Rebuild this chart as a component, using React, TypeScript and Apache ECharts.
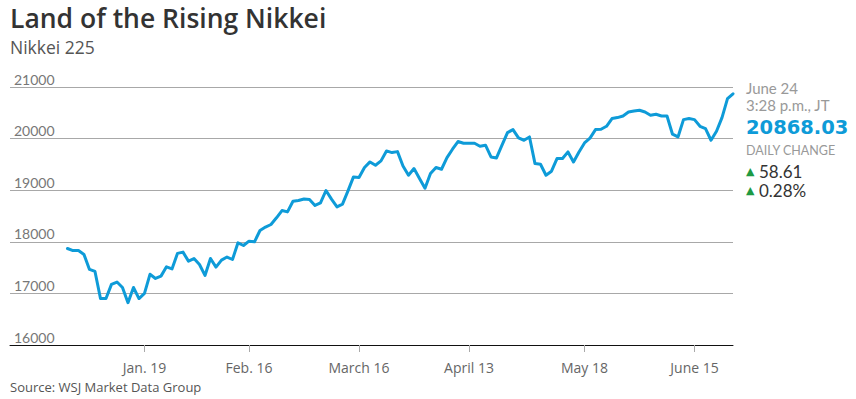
import React, { useEffect, useRef } from "react";
import * as echarts from "echarts";

// Trading days (Tokyo), Dec 24 2014 – June 24 2015
const tradingDays: string[] = [
  "2014-12-24", "2014-12-25", "2014-12-26", "2014-12-29", "2014-12-30",
  "2015-01-05", "2015-01-06", "2015-01-07", "2015-01-08", "2015-01-09",
  "2015-01-13", "2015-01-14", "2015-01-15", "2015-01-16",
  "2015-01-19", "2015-01-20", "2015-01-21", "2015-01-22", "2015-01-23",
  "2015-01-26", "2015-01-27", "2015-01-28", "2015-01-29", "2015-01-30",
  "2015-02-02", "2015-02-03", "2015-02-04", "2015-02-05", "2015-02-06",
  "2015-02-09", "2015-02-10", "2015-02-12", "2015-02-13",
  "2015-02-16", "2015-02-17", "2015-02-18", "2015-02-19", "2015-02-20",
  "2015-02-23", "2015-02-24", "2015-02-25", "2015-02-26", "2015-02-27",
  "2015-03-02", "2015-03-03", "2015-03-04", "2015-03-05", "2015-03-06",
  "2015-03-09", "2015-03-10", "2015-03-11", "2015-03-12", "2015-03-13",
  "2015-03-16", "2015-03-17", "2015-03-18", "2015-03-19", "2015-03-20",
  "2015-03-23", "2015-03-24", "2015-03-25", "2015-03-26", "2015-03-27",
  "2015-03-30", "2015-03-31", "2015-04-01", "2015-04-02", "2015-04-03",
  "2015-04-06", "2015-04-07", "2015-04-08", "2015-04-09", "2015-04-10",
  "2015-04-13", "2015-04-14", "2015-04-15", "2015-04-16", "2015-04-17",
  "2015-04-20", "2015-04-21", "2015-04-22", "2015-04-23", "2015-04-24",
  "2015-04-27", "2015-04-28", "2015-04-30", "2015-05-01",
  "2015-05-07", "2015-05-08",
  "2015-05-11", "2015-05-12", "2015-05-13", "2015-05-14", "2015-05-15",
  "2015-05-18", "2015-05-19", "2015-05-20", "2015-05-21", "2015-05-22",
  "2015-05-25", "2015-05-26", "2015-05-27", "2015-05-28", "2015-05-29",
  "2015-06-01", "2015-06-02", "2015-06-03", "2015-06-04", "2015-06-05",
  "2015-06-08", "2015-06-09", "2015-06-10", "2015-06-11", "2015-06-12",
  "2015-06-15", "2015-06-16", "2015-06-17", "2015-06-18", "2015-06-19",
  "2015-06-22", "2015-06-23", "2015-06-24",
];

// Nikkei 225 closes
const closes: number[] = [
  17870, 17830, 17830, 17755, 17465,
  17425, 16900, 16900, 17175, 17220,
  17115, 16820, 17115, 16900,
  17000, 17370, 17290, 17335, 17515,
  17475, 17775, 17800, 17625, 17675,
  17560, 17348, 17677, 17510, 17645,
  17705, 17657, 17980, 17928,
  18012, 18000, 18219, 18285, 18335,
  18465, 18606, 18580, 18786, 18800,
  18830, 18820, 18704, 18755, 18994,
  18826, 18676, 18729, 18987, 19258,
  19245, 19439, 19548, 19484, 19568,
  19761, 19729, 19748, 19470, 19290,
  19419, 19226, 19038, 19322, 19439,
  19406, 19632, 19794, 19943, 19910,
  19910, 19910, 19852, 19872, 19645,
  19626, 19872, 20117, 20175, 20013,
  19968, 20032, 19516, 19503,
  19290, 19368,
  19613, 19613, 19742, 19548, 19742,
  19916, 20010, 20175, 20181, 20239,
  20388, 20407, 20439, 20516, 20535,
  20549, 20516, 20452, 20471, 20439,
  20439, 20085, 20032, 20368, 20388,
  20368, 20239, 20194, 19968, 20142,
  20407, 20775, 20868,
];

const tickDates: string[] = ["2015-01-19", "2015-02-16", "2015-03-16", "2015-04-13", "2015-05-18", "2015-06-15"];
const tickLabels: string[] = ["Jan. 19", "Feb. 16", "March 16", "April 13", "May 18", "June 15"];

const yMin = 16000;
const yMax = 21000;
const yStep = 1000;

const lastDateLabel = "June 24";
const lastTimeLabel = "3:28 p.m., JT";
const lastValueLabel = "20868.03";
const changePoints = "58.61";
const changePercent = "0.28%";

export default function App() {
  const ref = useRef<HTMLDivElement>(null);

  useEffect(() => {
    if (!ref.current) return;
    const chart = echarts.init(ref.current, undefined, { renderer: "svg" });
    const tickIdx = tickDates.map((d) => tradingDays.indexOf(d));
    const labelByIdx: Record<number, string> = {};
    tickIdx.forEach((i, k) => (labelByIdx[i] = tickLabels[k]));
    const data = closes.map((v, i) => [i, v]);

    const side = "Lato, sans-serif";
    chart.setOption({
      animation: false,
      backgroundColor: "#fff",
      grid: { left: 10, right: 123, top: 87, bottom: 54, containLabel: false },
      xAxis: {
        type: "value",
        min: -10.45,
        max: tradingDays.length - 1,
        splitLine: { show: false },
        axisLine: { show: true, lineStyle: { color: "#111", width: 1 } },
        axisTick: {
          show: true,
          customValues: tickIdx,
          length: 7,
          lineStyle: { color: "#aaa", width: 1 },
        },
        axisLabel: {
          show: true,
          customValues: tickIdx,
          formatter: (v: number) => labelByIdx[Math.round(v)] ?? "",
          margin: 15,
          color: "#666",
          fontFamily: "'Open Sans', sans-serif",
          fontSize: 14,
        },
      },
      yAxis: {
        type: "value",
        min: yMin,
        max: yMax,
        interval: yStep,
        axisLine: { show: false },
        axisTick: { show: false },
        splitLine: { show: true, lineStyle: { color: "#a8a8a8", width: 1 } },
        axisLabel: {
          inside: true,
          margin: 4,
          align: "left",
          verticalAlign: "bottom",
          padding: [0, 0, 1, 0],
          color: "#777",
          fontFamily: side,
          fontSize: 14,
          formatter: (v: number) => String(v),
        },
      },
      series: [
        {
          type: "line",
          data,
          showSymbol: false,
          symbol: "none",
          lineStyle: { color: "#0e9bd8", width: 3, join: "round", cap: "round" },
          z: 3,
        },
      ],
      graphic: [
        {
          type: "text",
          x: 10,
          y: 18,
          style: {
            text: "Land of the Rising Nikkei",
            fill: "#333",
            font: "600 26.5px 'Open Sans', sans-serif",
            verticalAlign: "middle",
          },
        },
        {
          type: "text",
          x: 10,
          y: 47,
          style: {
            text: "Nikkei 225",
            fill: "#555",
            font: "17.5px 'Open Sans', sans-serif",
            verticalAlign: "middle",
          },
        },
        {
          type: "text",
          x: 10,
          y: 387,
          style: {
            text: "Source: WSJ Market Data Group",
            fill: "#555",
            font: "13px 'Open Sans', sans-serif",
            verticalAlign: "middle",
          },
        },
        {
          type: "text",
          x: 746,
          y: 88,
          style: { text: lastDateLabel, fill: "#999", font: `15px ${side}`, verticalAlign: "middle" },
        },
        {
          type: "text",
          x: 746,
          y: 105,
          style: { text: lastTimeLabel, fill: "#999", font: `15px ${side}`, verticalAlign: "middle" },
        },
        {
          type: "text",
          x: 746,
          y: 127,
          style: {
            text: lastValueLabel,
            fill: "#0e9bd8",
            font: "bold 19.5px 'DejaVu Sans', sans-serif",
            verticalAlign: "middle",
          },
        },
        {
          type: "text",
          x: 746,
          y: 150,
          style: { text: "DAILY CHANGE", fill: "#999", font: `12.5px ${side}`, verticalAlign: "middle" },
        },
        {
          type: "text",
          x: 746,
          y: 171,
          style: { text: "▲", fill: "#1e9a43", font: "11px 'DejaVu Sans', sans-serif", verticalAlign: "middle" },
        },
        {
          type: "text",
          x: 759,
          y: 171,
          style: { text: changePoints, fill: "#333", font: `17px ${side}`, verticalAlign: "middle" },
        },
        {
          type: "text",
          x: 746,
          y: 190,
          style: { text: "▲", fill: "#1e9a43", font: "11px 'DejaVu Sans', sans-serif", verticalAlign: "middle" },
        },
        {
          type: "text",
          x: 759,
          y: 190,
          style: { text: changePercent, fill: "#333", font: `17px ${side}`, verticalAlign: "middle" },
        },
      ],
    });
    return () => chart.dispose();
  }, []);

  return (
    <div
      ref={ref}
      style={{ position: "absolute", left: 0, top: 0, width: 856, height: 399 }}
    />
  );
}
